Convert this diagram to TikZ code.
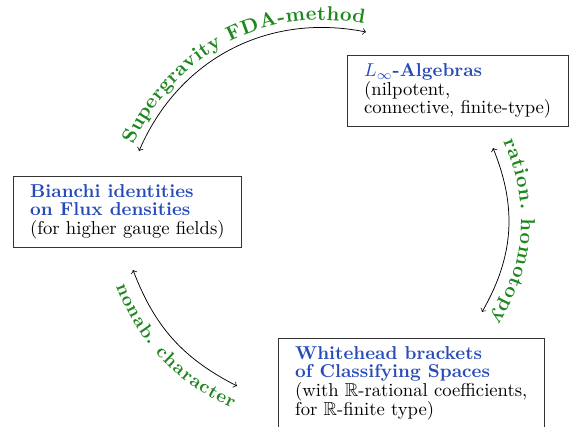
\documentclass[tikz,border=0pt]{standalone}
\usepackage{amssymb}
\usepackage{tikz}
\usetikzlibrary{arrows,decorations.text}
\definecolor{titleblue}{RGB}{40,75,185}
\definecolor{labelgreen}{RGB}{30,135,30}
\newcommand{\boxtitle}[1]{\textcolor{titleblue}{\bfseries #1}}

\begin{document}
\begin{tikzpicture}[x=0.5362pt, y=0.5362pt, box node/.style={draw=black!80, align=left, anchor=north west, inner xsep=9pt, inner ysep=4.3pt, font=\fontsize{10}{10}\selectfont}, arc label/.style={decorate, decoration={text along path, text align=center, text color=labelgreen, raise=#1}}]
\useasboundingbox (0,0) rectangle (574,426);
\begin{scope}
\node[box node] (bianchi) at (13,250) {\boxtitle{Bianchi identities}\\ \boxtitle{on Flux densities}\\ (for higher gauge fields)};
\node[box node] (linf) at (347,371) {\boxtitle{$L_\infty$-Algebras}\\ (nilpotent,\\ connective, finite-type)};
\node[box node] (whitehead) at (278,88) {\boxtitle{Whitehead brackets}\\ \boxtitle{of Classifying Spaces}\\ (with $\mathbb{R}$-rational coefficients,\\ for $\mathbb{R}$-finite type)};
\end{scope}
\begin{scope}
\coordinate (sg1) at (139,275);
\coordinate (sg2) at (366,394);
\coordinate (rh1) at (493,278);
\coordinate (rh2) at (482,114);
\coordinate (rh1l) at (486,293);
\coordinate (rh2l) at (473,100);
\coordinate (nc1) at (133,156);
\coordinate (nc2) at (237,40);
\coordinate (nc1l) at (128,171);
\coordinate (nc2l) at (264,28);
\draw[<->] (sg1) to[bend left=39] (sg2);
\draw[<->] (rh1) to[bend left=26] (rh2);
\draw[<->] (nc1) to[bend right=21] (nc2);
\path[arc label=4pt, decoration={text={|\fontsize{10.8}{13}\bfseries|Supergravity FDA-method}}] (sg1) to[bend left=39] (sg2);
\path[arc label=6.5pt, decoration={text={|\fontsize{10.8}{13}\bfseries|ration. homotopy}}] (rh1l) to[bend left=31] (rh2l);
\path[arc label=-11.5pt, decoration={text={|\bfseries|nonab. character}}] (nc1l) to[bend right=27] (nc2l);
\end{scope}
\end{tikzpicture}
\end{document}
